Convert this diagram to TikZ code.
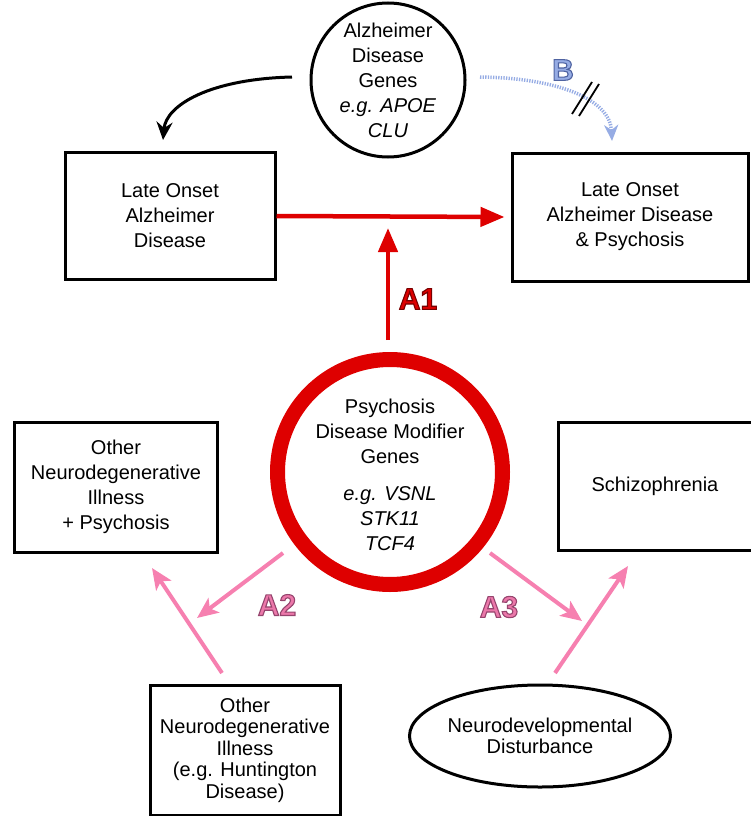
\documentclass[tikz,border=0pt]{standalone}
\usepackage{fontspec}
\setmainfont{Liberation Sans}
\usetikzlibrary{arrows.meta,shapes.geometric}
\definecolor{adred}{RGB}{222,0,0}
\definecolor{adpink}{RGB}{246,128,176}
\definecolor{adpinklab}{RGB}{236,120,170}
\definecolor{adblue}{RGB}{150,172,228}
% outlined text: fill + stroke (text render mode 2)
\newcommand{\outlinedtext}[3]{\textcolor{#1}{\special{pdf:literal 2 Tr 1.1 w #2 RG}#3\special{pdf:literal 0 Tr}}}
\begin{document}
\begin{tikzpicture}[x=1pt,y=-1pt,
  font=\fontsize{20}{25}\selectfont,
  box/.style={draw,line width=3pt,align=center,inner sep=0pt},
  redarrow/.style={draw=adred,line width=4.5pt,-{Triangle[length=24pt,width=19pt]}},
  pinkarrow/.style={draw=adpink,line width=4pt,-{Stealth[length=21pt,width=18pt,inset=5pt]}},
  lab/.style={font=\fontsize{30}{32}\selectfont\bfseries}]
\useasboundingbox (0,0) rectangle (750,816);

% top gene circle
\node[circle,draw,line width=3pt,minimum size=154pt,inner sep=0pt,align=center] (adg) at (388,80)
  {Alzheimer\\Disease\\Genes\\\textit{e.g. APOE}\\\textit{CLU}};

% top boxes
\node[box,minimum width=210pt,minimum height=127pt] (load) at (170,216)
  {Late Onset\\Alzheimer\\Disease};
\node[box,minimum width=236pt,minimum height=128pt] (loadp) at (630,217)
  {Late Onset\\Alzheimer Disease\\\& Psychosis};

% central ring
\node[circle,draw=adred,line width=15pt,minimum size=225pt,inner sep=0pt,align=center] (pdm) at (390,472) {};
\node[align=center] (pdmtxt) at (390,475)
  {Psychosis\\Disease Modifier\\Genes\\[12pt]\textit{e.g. VSNL}\\\textit{STK11}\\\textit{TCF4}};

% middle boxes
\node[box,minimum width=203pt,minimum height=130pt] (ondp) at (116,487)
  {Other\\Neurodegenerative\\Illness\\+ Psychosis};
\node[box,minimum width=194pt,minimum height=128pt] (scz) at (655,486)
  {Schizophrenia};

% bottom
\node[box,minimum width=190pt,minimum height=130pt,font=\fontsize{20}{21.5}\selectfont] (ond) at (245,750)
  {Other\\Neurodegenerative\\Illness\\(e.g. Huntington\\Disease)};
\node[ellipse,draw,line width=3pt,minimum width=216pt,minimum height=102pt,inner sep=0pt,align=center,font=\fontsize{20}{21.5}\selectfont] (ndd) at (540,736)
  {Neurodevelopmental\\Disturbance};

% black curved arrow
\coordinate (bs) at (292,77);
\coordinate (be) at (163,140);
\draw[line width=3pt,-{Stealth[length=18pt,width=16pt,inset=6pt]}] (bs) .. controls (210,79) and (166,105) .. (be);

% blue dotted arrow
\coordinate (ps) at (480,77);
\coordinate (pe) at (612,141);
\draw[adblue,line width=3.5pt,dash pattern=on 1.3pt off 1.3pt,-{Stealth[length=16pt,width=14pt,inset=5pt]}] (ps) .. controls (560,78) and (610,100) .. (pe);
\draw[line width=1.8pt] (572,114) -- (592,82);
\draw[line width=1.8pt] (579,116) -- (599,84);
\node[lab] (labB) at (563,70) {\outlinedtext{adblue}{0.31 0.39 0.63}{B}};

% red arrows
\draw[redarrow] (load.east) -- ([xshift=-6pt]loadp.west);
\coordinate (a1e) at (388,228);
\draw[redarrow] ([yshift=12pt]pdm.north -| a1e) -- (a1e);
\node[lab] (labA1) at (418,299) {\outlinedtext{adred}{0.47 0 0}{A1}};

% pink arrows
\coordinate (a2s) at (283,553);
\coordinate (a2e) at (197,618);
\draw[pinkarrow] (a2s) -- (a2e);
\coordinate (o2s) at (222,673);
\coordinate (o2e) at (152,568);
\draw[pinkarrow] (o2s) -- (o2e);
\node[lab] (labA2) at (277,605) {\outlinedtext{adpinklab}{0.59 0.27 0.43}{A2}};

\coordinate (a3s) at (490,553);
\coordinate (a3e) at (582,621);
\draw[pinkarrow] (a3s) -- (a3e);
\coordinate (n3s) at (555,673);
\coordinate (n3e) at (628,566);
\draw[pinkarrow] (n3s) -- (n3e);
\node[lab] (labA3) at (499,607) {\outlinedtext{adpinklab}{0.59 0.27 0.43}{A3}};
\end{tikzpicture}
\end{document}
